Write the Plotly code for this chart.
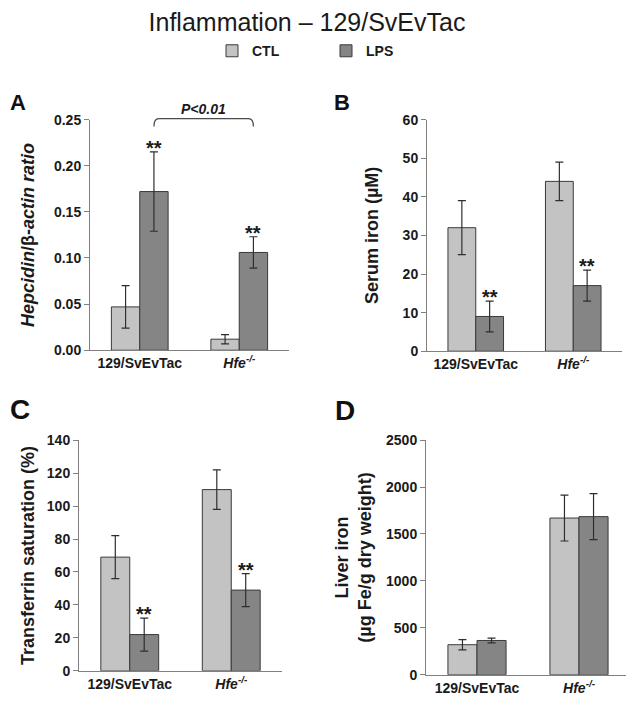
"""Inflammation – 129/SvEvTac: four bar panels (hepcidin, serum iron, Tf saturation, liver iron)."""

import plotly.graph_objects as go

groups = ["129/SvEvTac", "<i>Hfe<sup>-/-</sup></i>"]
conditions = ["CTL", "LPS"]

hep_ctl = [0.047, 0.012]
hep_ctl_err = [0.023, 0.005]
hep_lps = [0.172, 0.106]
hep_lps_err = [0.043, 0.017]

iron_ctl = [32, 44]
iron_ctl_err = [7, 5]
iron_lps = [9, 17]
iron_lps_err = [4, 4]

tsat_ctl = [69, 110]
tsat_ctl_err = [13, 12]
tsat_lps = [22, 49]
tsat_lps_err = [10, 10]

liver_ctl = [320, 1670]
liver_ctl_err = [55, 245]
liver_lps = [365, 1685]
liver_lps_err = [25, 245]

W, H = 634, 706
PAGE_OFF = 8  # the page body margin pushes the figure 8px right and down
FONT = "Liberation Sans, Arial, sans-serif"
CTL_COLOR = "#c3c3c3"
LPS_COLOR = "#858585"
AXIS_COLOR = "#808080"
TEXT_COLOR = "#1a1a1a"
BARGAP = 0.43
HALF = (1 - BARGAP) / 4  # offset of each bar centre from the group centre


def px_x(p):
    return max(p - PAGE_OFF, 0) / W


def px_y(p):
    return 1 - max(p - PAGE_OFF, 0) / H


panels = [
    dict(ax="", ctl=hep_ctl, ctl_err=hep_ctl_err, lps=hep_lps, lps_err=hep_lps_err,
         rng=[0, 0.25], dtick=0.05, fmt=".2f",
         title="<i>Hepcidin</i>/β-<i>actin ratio</i>",
         dx=(90, 289), dy=(114, 350), standoff=14, stars=[1, 1], label="A", lab_xy=(4, 96), lab_size=22),
    dict(ax="2", ctl=iron_ctl, ctl_err=iron_ctl_err, lps=iron_lps, lps_err=iron_lps_err,
         rng=[0, 60], dtick=10, fmt="d",
         title="Serum iron (µM)",
         dx=(427, 622), dy=(114, 351), standoff=19, stars=[1, 1], label="B", lab_xy=(332, 96), lab_size=22),
    dict(ax="3", ctl=tsat_ctl, ctl_err=tsat_ctl_err, lps=tsat_lps, lps_err=tsat_lps_err,
         rng=[0, 140], dtick=20, fmt="d",
         title="Transferrin saturation (%)",
         dx=(79, 282), dy=(442, 678), standoff=7, stars=[1, 1], label="C", lab_xy=(3, 411), lab_size=28),
    dict(ax="4", ctl=liver_ctl, ctl_err=liver_ctl_err, lps=liver_lps, lps_err=liver_lps_err,
         rng=[0, 2500], dtick=500, fmt="d",
         title="Liver iron<br>(µg Fe/g dry weight)",
         dx=(426, 630), dy=(442, 682), standoff=9, stars=[0, 0], label="D", lab_xy=(333, 412), lab_size=28),
]

fig = go.Figure()
annotations = []
shapes = []
layout_axes = {}

for i, p in enumerate(panels):
    xa, ya = "x" + p["ax"], "y" + p["ax"]
    for name, vals, errs, color, off in [
        ("CTL", p["ctl"], p["ctl_err"], CTL_COLOR, "a"),
        ("LPS", p["lps"], p["lps_err"], LPS_COLOR, "b"),
    ]:
        fig.add_trace(
            go.Bar(
                x=list(range(len(groups))),
                y=vals,
                name=name,
                offsetgroup=off,
                marker=dict(color=color, line=dict(color="#3a3a3a", width=1)),
                error_y=dict(type="data", array=errs, color="#2e2e2e", thickness=1.2, width=4),
                showlegend=(i == 0),
                xaxis=xa,
                yaxis=ya,
            )
        )

    # significance stars above LPS bars
    for g, star in enumerate(p["stars"]):
        if star:
            annotations.append(dict(
                x=g + HALF, y=p["lps"][g] + p["lps_err"][g], xref=xa, yref=ya,
                text="**", showarrow=False, yanchor="bottom", yshift=-9,
                font=dict(family=FONT, size=20, color=TEXT_COLOR, weight="bold"),
            ))

    # panel letter
    annotations.append(dict(
        x=px_x(p["lab_xy"][0]), y=px_y(p["lab_xy"][1]), xref="paper", yref="paper",
        text=p["label"], showarrow=False, xanchor="left", yanchor="middle",
        font=dict(family=FONT, size=p["lab_size"], color="#111111", weight="bold"),
    ))

    suffix = p["ax"]
    layout_axes["xaxis" + suffix] = dict(
        domain=[px_x(p["dx"][0]), px_x(p["dx"][1])],
        anchor=ya,
        range=[-0.5, 1.5],
        tickvals=list(range(len(groups))),
        ticktext=groups,
        ticks="",
        showline=True, linecolor=AXIS_COLOR, linewidth=1,
        showgrid=False, zeroline=False,
        tickfont=dict(family=FONT, size=14, color=TEXT_COLOR, weight="bold"),
    )
    layout_axes["yaxis" + suffix] = dict(
        domain=[px_y(p["dy"][1]), px_y(p["dy"][0])],
        anchor=xa,
        range=p["rng"],
        dtick=p["dtick"],
        tickformat=p["fmt"],
        ticks="outside", ticklen=5, tickcolor=AXIS_COLOR, tickwidth=1,
        showline=True, linecolor=AXIS_COLOR, linewidth=1,
        showgrid=False, zeroline=False,
        tickfont=dict(family=FONT, size=14, color=TEXT_COLOR, weight="bold"),
        title=dict(text=p["title"], standoff=p["standoff"],
                   font=dict(family=FONT, size=18, color=TEXT_COLOR, weight="bold")),
    )

# P<0.01 bracket between the two LPS bars of panel A
bx0, bx1 = 0 + HALF, 1 + HALF
ytop, ybot, r = px_y(113), px_y(121), 0.05
shapes.append(dict(
    type="path", xref="x", yref="paper",
    path=(f"M {bx0},{ybot} Q {bx0},{ytop} {bx0 + r},{ytop} "
          f"L {bx1 - r},{ytop} Q {bx1},{ytop} {bx1},{ybot}"),
    line=dict(color="#4a4a4a", width=1.2),
))
annotations.append(dict(
    x=(bx0 + bx1) / 2, y=px_y(103), xref="x", yref="paper",
    text="<i>P<0.01</i>", showarrow=False, yanchor="middle",
    font=dict(family=FONT, size=14, color=TEXT_COLOR, weight="bold"),
))

fig.update_layout(
    width=W,
    height=H,
    margin=dict(l=0, r=0, t=0, b=0),
    paper_bgcolor="white",
    plot_bgcolor="white",
    barmode="group",
    bargap=BARGAP,
    bargroupgap=0,
    font=dict(family=FONT, color=TEXT_COLOR),
    title=dict(
        text="Inflammation – 129/SvEvTac",
        x=px_x(307), xanchor="center", y=px_y(22), yanchor="middle",
        font=dict(family=FONT, size=25, color="#1a1a1a"),
    ),
    legend=dict(
        orientation="h",
        x=px_x(212), xanchor="left", y=px_y(44), yanchor="middle",
        entrywidth=69, entrywidthmode="pixels",
        bgcolor="rgba(0,0,0,0)",
        font=dict(family=FONT, size=14, color=TEXT_COLOR, weight="bold"),
    ),
    annotations=annotations,
    shapes=shapes,
    **layout_axes,
)

fig.write_html("out.html")
